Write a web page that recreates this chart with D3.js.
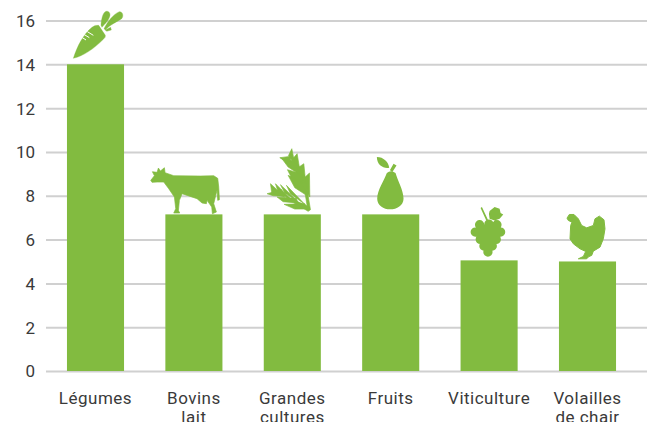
<!DOCTYPE html>
<html>
<head>
<meta charset="utf-8">
<script src="https://cdn.jsdelivr.net/npm/d3@7"></script>
<style>
  html, body { margin: 0; padding: 0; background: #fff; overflow: hidden; }
  text { font-family: Roboto, sans-serif; fill: #3a3a3a; font-weight: 400; }
</style>
</head>
<body>
<div class="chart"></div>
<script>
var categories = ["Légumes", "Bovins lait", "Grandes cultures", "Fruits", "Viticulture", "Volailles de chair"];
var labelLines = [["Légumes"], ["Bovins", "lait"], ["Grandes", "cultures"], ["Fruits"], ["Viticulture"], ["Volailles", "de chair"]];
var values = [14, 7.15, 7.15, 7.15, 5.05, 5];
var yTicks = [0, 2, 4, 6, 8, 10, 12, 14, 16];

var w = 654;
var h = 422;
var green = "#82bb40";

var xScale = d3.scaleBand()
               .domain(categories)
               .range([46.3, 636.7])
               .paddingInner(0.42)
               .paddingOuter(0.21);
var yScale = d3.scaleLinear()
               .domain([0, 16])
               .range([371, 20.5]);

var svg = d3.select(".chart")
            .append("svg")
            .attr("width", w)
            .attr("height", h)
            .style("display", "block");

// grid + y labels
var yAxis = d3.axisLeft(yScale)
              .tickValues(yTicks)
              .tickSize(-601)
              .tickPadding(11);
var gy = svg.append("g")
            .attr("transform", "translate(46,0)")
            .call(yAxis);
gy.select(".domain").remove();
gy.selectAll("line").attr("stroke", "#d0d0d0").attr("stroke-width", 2);
gy.selectAll("text").style("font-size", "17px").attr("dy", "0.35em");

// bars
svg.selectAll("rect.bar")
   .data(categories)
   .enter()
   .append("rect")
   .attr("class", "bar")
   .attr("x", function(d){ return xScale(d); })
   .attr("y", function(d,i){ return yScale(values[i]); })
   .attr("width", xScale.bandwidth())
   .attr("height", function(d,i){ return yScale(0) - yScale(values[i]); })
   .attr("fill", green);

// x labels
var xAxis = d3.axisBottom(xScale).tickSize(0).tickFormat("");
var gx = svg.append("g")
            .attr("transform", "translate(0,371)")
            .call(xAxis);
gx.select(".domain").remove();
gx.selectAll(".tick").each(function(d,i){
  var t = d3.select(this).select("text")
            .attr("y", 33)
            .attr("dy", null)
            .style("font-size", "17px")
            .style("letter-spacing", "0.5px");
  labelLines[i].forEach(function(line,j){
    t.append("tspan")
     .attr("x", 0)
     .attr("dy", j == 0 ? 0 : 19)
     .text(line);
  });
});

// icons, drawn at 3x around [ox,oy] and sat on top of each bar
function blobs(list, r){
  return list.map(function(c){
    return "M"+(c[0]-r)+","+c[1]+"a"+r+","+r+" 0 1,1 "+(2*r)+",0a"+r+","+r+" 0 1,1 "+(-2*r)+",0Z";
  }).join("");
}
var grapes = [[120,103],[148,101],[172,103],[107,125],[135,125],[160,125],[183,125],[122,147],[147,147],[170,147],[133,167],[158,167],[145,185]];

var icons = [
  { ox:286.5, oy:195, sw:1,
    fill:"M220,177C232,140 250,105 276,84Q285,76 296,78L316,108Q318,114 310,120C280,150 250,170 220,177Z"
        +"M303,78C304,60 308,42 316,37C324,33 331,40 330,48C328,62 315,74 306,84Z"
        +"M312,88C322,68 340,44 358,37C368,36 372,50 365,58C350,68 330,76 316,92Z"
        +"M316,92L332,84L334,92L320,96Z",
    cut:"M262,97L280,108M253,106L268,115M247,115L258,122" },
  { ox:580.5, oy:642, sw:2,
    fill:"M451,540L462,526L456,514L470,516L474,503L480,512L492,502L494,517L520,526L600,527L640,526L652,534L655,560L657,598L652,600L650,570L646,585L640,610L648,635L636,640L634,620L620,600L618,610L605,608L590,595L545,580L537,600L534,630L538,638L520,638L526,625L522,590L505,565L490,545L470,545L455,546Z" },
  { ox:157.5, oy:252, sw:2,
    fill:"M209,128L210,200L180,155ZM192,100L198,160L166,118ZM172,70L182,130L153,92ZM156,55L165,100L146,76Z"
        +"M145,135L200,160L205,198L165,172ZM143,118L185,130L190,160L155,142ZM125,83L170,100L176,130L145,110ZM120,82L150,78L155,95L140,95Z"
        +"M92,160L135,200L96,188ZM107,160L155,208L116,188ZM122,163L175,214L135,188ZM140,165L195,222L152,190Z"
        +"M82,190L125,178L132,198L100,196ZM112,200L170,204L172,218L130,214ZM133,222L195,220L202,236L165,236Z"
        +"M196,190L204,190L212,238L205,243L188,232L140,205L142,200L192,222L202,226Z" },
  { ox:451.5, oy:252, sw:0,
    fill:"M440,128Q452,118 466,128C472,150 490,180 490,205C490,225 470,237 450,237C430,237 411,225 411,205C411,180 432,150 440,128Z"
        +"M449,120L460,100L469,105L457,124Z"
        +"M410,80C430,80 445,95 447,112C430,115 410,105 410,80Z" },
  { ox:148.5, oy:210, sw:0,
    fill:blobs(grapes, 14)
        +"M120,103L172,103L183,125L145,190L107,125Z"
        +"M123,53L127,50L145,88L140,90Z"
        +"M150,62L165,50L180,55L183,68L191,72L180,85L165,90L150,85L148,70Z" },
  { ox:442.5, oy:213, sw:3,
    fill:"M381,83L388,72L402,72L415,85L425,105L440,112L460,105L465,85L478,77L492,88L495,115L490,145L480,170L460,182L455,195L447,198L440,205L415,205L430,198L437,183L420,175L400,160L390,145L392,105L396,95L385,90Z" }
];

var iconG = svg.selectAll("g.icon")
   .data(categories)
   .enter()
   .append("g")
   .attr("class", "icon")
   .attr("transform", function(d,i){
     var cx = xScale(d) + xScale.bandwidth()/2;
     return "translate("+cx+","+yScale(values[i])+") scale(0.3333) translate("+(-icons[i].ox)+","+(-icons[i].oy)+")";
   });
iconG.append("path")
     .attr("d", function(d,i){ return icons[i].fill; })
     .attr("fill", green)
     .attr("stroke", green)
     .attr("stroke-linejoin", "round")
     .attr("stroke-width", function(d,i){ return icons[i].sw; });
iconG.filter(function(d,i){ return icons[i].cut; })
     .append("path")
     .attr("d", function(d){ return icons[categories.indexOf(d)].cut; })
     .attr("stroke", "#fff")
     .attr("stroke-width", 3)
     .attr("fill", "none");
</script>
</body>
</html>
